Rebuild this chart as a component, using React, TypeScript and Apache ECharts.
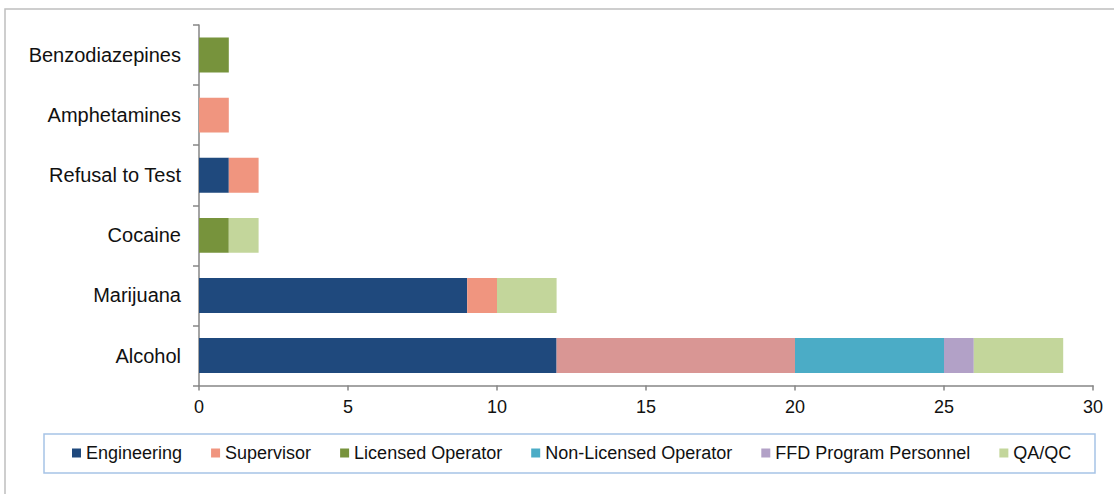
import React, { useEffect, useRef } from "react";
import * as echarts from "echarts";

const categories = ["Alcohol", "Marijuana", "Cocaine", "Refusal to Test", "Amphetamines", "Benzodiazepines"];
const seriesNames = ["Engineering", "Supervisor", "Licensed Operator", "Non-Licensed Operator", "FFD Program Personnel", "QA/QC"];
const engineering = [12, 9, 0, 1, 0, 0];
const supervisor = [8, 1, 0, 1, 1, 0];
const licensedOperator = [0, 0, 1, 0, 0, 1];
const nonLicensedOperator = [5, 0, 0, 0, 0, 0];
const ffdProgramPersonnel = [1, 0, 0, 0, 0, 0];
const qaqc = [3, 2, 1, 0, 0, 0];
const xTicks = { min: 0, max: 30, interval: 5 };

const colors = ["#1F497D", "#F0957F", "#77933C", "#4BACC6", "#B2A1C7", "#C3D69B"];
const FONT = "'Liberation Sans', Arial, sans-serif";

export default function App() {
  const ref = useRef<HTMLDivElement>(null);
  useEffect(() => {
    if (!ref.current) return;
    const chart = echarts.init(ref.current, null, { renderer: "svg" });
    const values = [engineering, supervisor, licensedOperator, nonLicensedOperator, ffdProgramPersonnel, qaqc];
    const series = seriesNames.map((name, i) => ({
      name,
      type: "bar",
      stack: "total",
      barWidth: "58%",
      itemStyle: { color: colors[i] },
      data: values[i].map((v, j) =>
        i === 1 && j === 0 ? { value: v, itemStyle: { color: "#D99694" } } : v
      ),
    }));
    chart.setOption({
      animation: false,
      textStyle: { fontFamily: FONT },
      graphic: [
        {
          type: "rect",
          shape: { x: 5, y: 9, width: 1400, height: 800 },
          style: { fill: "none", stroke: "#BFBFBF", lineWidth: 1.5 },
          silent: true,
        },
        {
          type: "rect",
          shape: { x: 44, y: 434, width: 1051, height: 39 },
          style: { fill: "none", stroke: "#A7C3E6", lineWidth: 1.5 },
          silent: true,
        },
      ],
      legend: {
        left: 72,
        top: 443,
        padding: 0,
        itemWidth: 9,
        itemHeight: 9,
        itemGap: 29,
        icon: "rect",
        textStyle: { fontSize: 18, color: "#111", fontFamily: FONT, lineHeight: 20 },
        data: seriesNames,
      },
      grid: { left: 199, top: 25, width: 894, height: 360.6, containLabel: false },
      xAxis: {
        type: "value",
        min: xTicks.min,
        max: xTicks.max,
        interval: xTicks.interval,
        splitLine: { show: false },
        axisLine: { show: true, lineStyle: { color: "#868686", width: 1.5 } },
        axisTick: { show: true, length: 5, lineStyle: { color: "#868686", width: 1.5 } },
        axisLabel: { fontSize: 18, color: "#111", margin: 12, fontFamily: FONT },
      },
      yAxis: {
        type: "category",
        data: categories,
        axisLine: { show: true, lineStyle: { color: "#868686", width: 1.5 } },
        axisTick: { show: true, length: 6, lineStyle: { color: "#868686", width: 1.5 } },
        axisLabel: { fontSize: 20, color: "#111", margin: 18, fontFamily: FONT },
      },
      series,
    });
    return () => chart.dispose();
  }, []);
  return (
    <div
      ref={ref}
      style={{ position: "fixed", left: 0, top: 0, width: 1114, height: 494, background: "#fff" }}
    />
  );
}
